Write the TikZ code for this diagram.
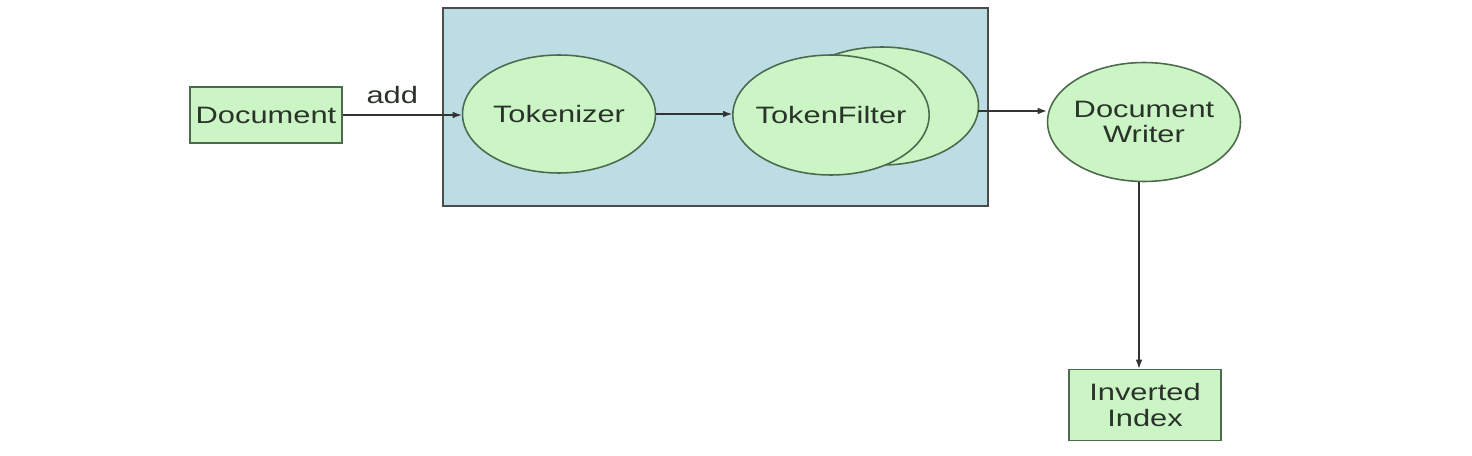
\documentclass[tikz,border=0pt]{standalone}
\usepackage{fontspec}
\newfontfamily\diafont[FakeStretch=1.3]{Liberation Sans}
\usetikzlibrary{shapes.geometric,arrows.meta}
\definecolor{boxgreen}{HTML}{CCF5C6}
\definecolor{linegreen}{HTML}{4E6A4E}
\definecolor{panelblue}{HTML}{BCDDE3}
\definecolor{txtgray}{HTML}{2A332A}
\tikzset{
  txt/.style={font=\diafont\fontsize{13.5}{14.5}\selectfont, text=txtgray, align=center},
  greenbox/.style={txt, draw=linegreen, line width=.9pt, fill=boxgreen, rectangle, minimum width=3.04cm, inner sep=0pt},
  greenoval/.style={txt, draw=linegreen, line width=.9pt, fill=boxgreen, ellipse, minimum width=3.86cm, minimum height=2.36cm, inner xsep=-1.2mm, inner ysep=0pt},
  flow/.style={-{Latex[length=1.8mm,width=1.3mm]}, line width=.6pt, black!80}
}
\begin{document}
\begin{tikzpicture}[x=0.02cm, y=-0.02cm]
  \useasboundingbox (0,0) rectangle (1472,456);
  % analyzer panel
  \draw [line width=.9pt, black!70, fill=panelblue] (443,8) rectangle (988,206);
  % nodes
  \node [greenbox, minimum height=1.12cm] (doc) at (266,115) {Document};
  \node [greenoval] (tok) at (559,114) {Tokenizer};
  \node [greenoval] (tfback) at (882,106) {};
  \node [greenoval, minimum height=2.4cm] (tf) at (831,115) {TokenFilter};
  \node [greenoval, minimum height=2.38cm] (dw) at (1144,122) {Document\\Writer};
  \node [greenbox, minimum height=1.42cm] (idx) at (1145,405) {Inverted\\Index};
  \coordinate (tfout) at (978,111);
  \coordinate (dwout) at (1139,182);
  % arrows
  \draw [flow] (doc.east) -- (doc.east -| tok.west) node [txt, midway, above=1mm, xshift=-2mm] (addlbl) {add};
  \draw [flow] (tok.east) -- (tok.east -| tf.west);
  \draw [flow] (tfout) -- (tfout -| dw.west);
  \draw [flow] (dwout) -- (dwout |- idx.north);
\end{tikzpicture}
\end{document}
